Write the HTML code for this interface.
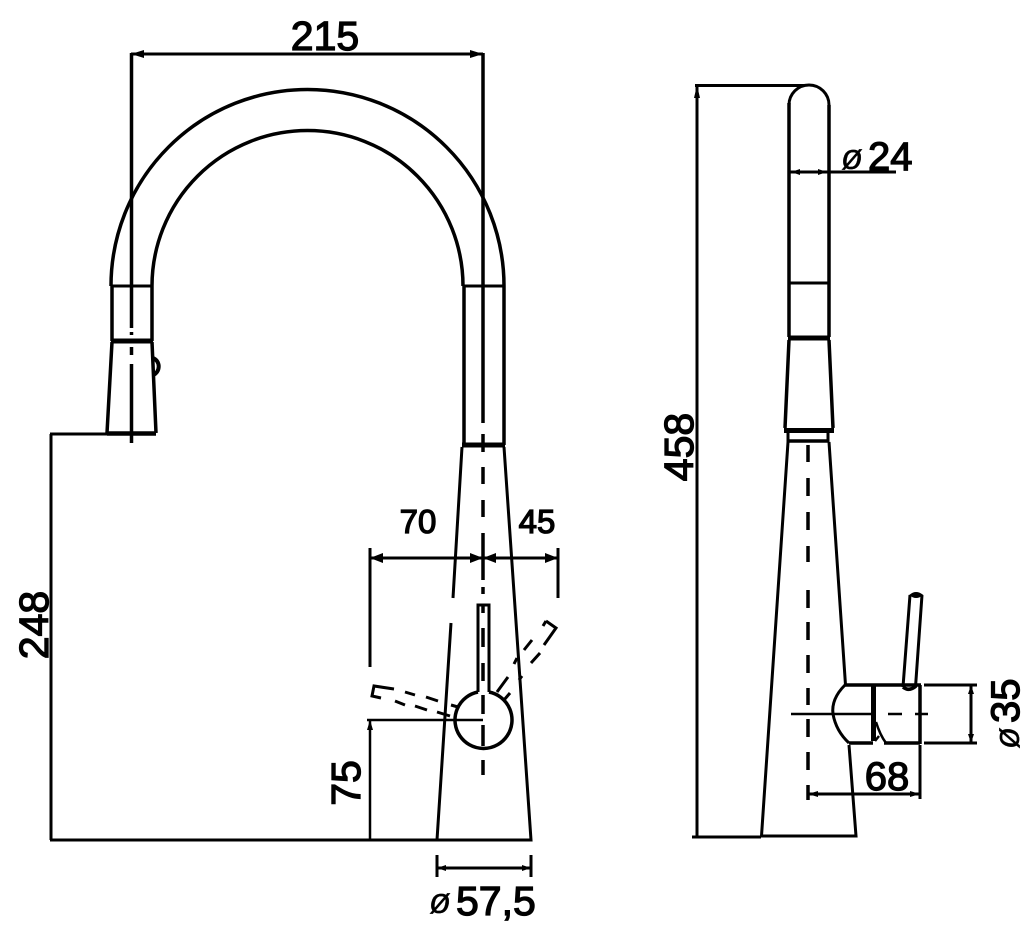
<!DOCTYPE html>
<html>
<head>
<meta charset="utf-8">
<style>
html,body{margin:0;padding:0;background:#fff;width:1034px;height:928px;overflow:hidden}
svg{display:block}
text{font-family:"Liberation Sans",sans-serif;fill:#000;stroke:#000;stroke-width:1.3}
</style>
</head>
<body>
<svg width="1034" height="928" viewBox="0 0 1034 928" fill="none" stroke="#000" stroke-width="3" stroke-linecap="butt">
<!-- left view: spout -->
<path d="M111 286A196 196 0 0 1 504 286" stroke-width="3.5"/>
<path d="M152 286A155.500 155.500 0 0 1 463 286" stroke-width="3.500"/>
<path d="M112 286V341M152 286V341M464 286V445M504 286V445" stroke-width="3.500"/>
<path d="M112 286H152M464 286H504" stroke-width="3"/>
<path d="M111 341H153M462 445H505" stroke-width="5"/>
<!-- spray head -->
<path d="M112 342L107 433M152 342L156 433" stroke-width="3.500"/>
<path d="M107 433.500H156" stroke-width="4.500"/>
<path d="M153 358A8.500 9 0 0 1 153 375" stroke-width="4"/>
<!-- centre lines -->
<path d="M131.500 53V328M131.500 332V335M131.500 347V355M131.500 364V443" stroke-width="3.500"/>
<path d="M483 53V423M483 434V452M483 467V484M483 500V517M483 533V580M483 587V594M483 605V613M483 628V647M483 663V681M483 695V714M483 725V746M483 760V775" stroke-width="3.500"/>
<!-- base cone -->
<path d="M462 447L453 598M451 623L437 840H531L504 447" stroke-width="3"/>
<!-- lever -->
<path d="M478 692V605H489V692" stroke-width="3"/>
<path d="M478 692A28.500 28.500 0 1 0 489 692" stroke-width="3.500"/>
<!-- dashed lever positions -->
<path d="M394 689L374 686L372 696L381 698" stroke-width="3"/>
<path d="M405 692L415 695M426 697L438 701M451 705L458 707M395 701L405 705M415 706L427 710M437 712L450 716" stroke-width="3"/>
<path d="M546 621L556 628L544 645" stroke-width="3"/>
<path d="M546 621L543 626M532 640L524 650M517 658L514 664M497 692L508 677M540 653L531 663M522 676L519 680M504 700L510 693" stroke-width="3"/>
<!-- dims left view -->
<path d="M131 54H483" stroke-width="3"/>
<path d="M370 558H558" stroke-width="3"/>
<path d="M370 548V667M558 548V598" stroke-width="3"/>
<path d="M483 720H367M370 720V840" stroke-width="2.500"/>
<path d="M51 434V840M50 434H107M50 840H437" stroke-width="3"/>
<path d="M437 868H531M437 855V877M531 855V877" stroke-width="3"/>
<g fill="#000" stroke="none">
<path d="M370 558l13-5v10zM483 558l-13-5v10zM483 558l13-5v10zM558 558l-13-5v10z"/>
<path d="M131 54l13-4v8zM483 54l-13-4v8z"/>
<path d="M370 720l-3 10h6z"/>
<path d="M437 868l9-3v6zM531 868l-9-3v6z"/>
</g>
<text x="325" y="50" font-size="41" text-anchor="middle">215</text>
<text x="418" y="533" font-size="33" text-anchor="middle">70</text>
<text x="537" y="533" font-size="33" text-anchor="middle">45</text>
<text transform="translate(48 625) rotate(-90)" font-size="41" text-anchor="middle">248</text>
<text transform="translate(360 783) rotate(-90)" font-size="41" text-anchor="middle">75</text>
<text x="429" y="913" font-size="36" font-style="italic" style="stroke-width:.3">ø</text>
<text x="456" y="915" font-size="41">57,5</text>

<!-- right view -->
<path d="M789 105A20 20 0 0 1 829 105" stroke-width="3"/>
<path d="M789 103V337M829 105V337" stroke-width="3.500"/>
<path d="M789 283H829" stroke-width="3"/>
<path d="M788 338H830" stroke-width="5"/>
<path d="M789 340L785 428M829 340L833 428" stroke-width="3.500"/>
<path d="M784 430.500H834" stroke-width="5"/>
<path d="M788 433V442M828 433V442" stroke-width="3"/>
<path d="M788 441H829" stroke-width="3.500"/>
<path d="M788 442L761.500 836H856L849 745M845.500 685L829 442" stroke-width="3"/>
<path d="M808 445V462M808 478V496M808 512V530M808 546V562M808 590V608M808 622V640M808 655V673M808 688V705M808 719V737M808 752V770M808 785V800" stroke-width="3.500"/>
<!-- valve body -->
<path d="M845 685H921M849 743H873M884 743H920" stroke-width="3.500"/>
<path d="M845 685Q831 699 833 714Q836 731 849 743" stroke-width="3"/>
<path d="M873.500 685V741" stroke-width="5"/>
<path d="M876 722Q880 735 886 743M875 741L879 736" stroke-width="2.500"/>
<path d="M920 685V744" stroke-width="3.500"/>
<path d="M903 687L910 595M922 595L915.500 687" stroke-width="3"/>
<path d="M910 595Q916 590 922.500 595Q916 600 910 595Z" fill="#000" stroke-width="1"/>
<path d="M903 687Q909 692 916 686" stroke-width="3.500"/>
<path d="M791 714H872M888 714H902M915 714H928" stroke-width="2.500"/>
<!-- dims right view -->
<path d="M695 85.500H805M697 85V837M692 837H761" stroke-width="3"/>
<path d="M789 172H896" stroke-width="3"/>
<path d="M924 685H977M924 743H977M971 685V743" stroke-width="3"/>
<path d="M808 794H920M920 745V799" stroke-width="3"/>
<g fill="#000" stroke="none">
<path d="M697 85l-3 13h6z"/>
<path d="M791 172l9-3v6zM827 172l-9-3v6z"/>
<path d="M971 685l-3 9h6zM971 743l-3-9h6z"/>
<path d="M808 794l10-3v6zM920 794l-10-3v6z"/>
</g>
<text x="841" y="169" font-size="36" font-style="italic" style="stroke-width:.3">ø</text>
<text x="868" y="170" font-size="40">24</text>
<text x="887" y="790" font-size="40" text-anchor="middle">68</text>
<text transform="translate(693 447) rotate(-90)" font-size="41" text-anchor="middle">458</text>
<text transform="translate(1019 749) rotate(-90)" font-size="36" font-style="italic" style="stroke-width:.3">ø</text>
<text transform="translate(1019 723) rotate(-90)" font-size="40">35</text>
</svg>
</body>
</html>
